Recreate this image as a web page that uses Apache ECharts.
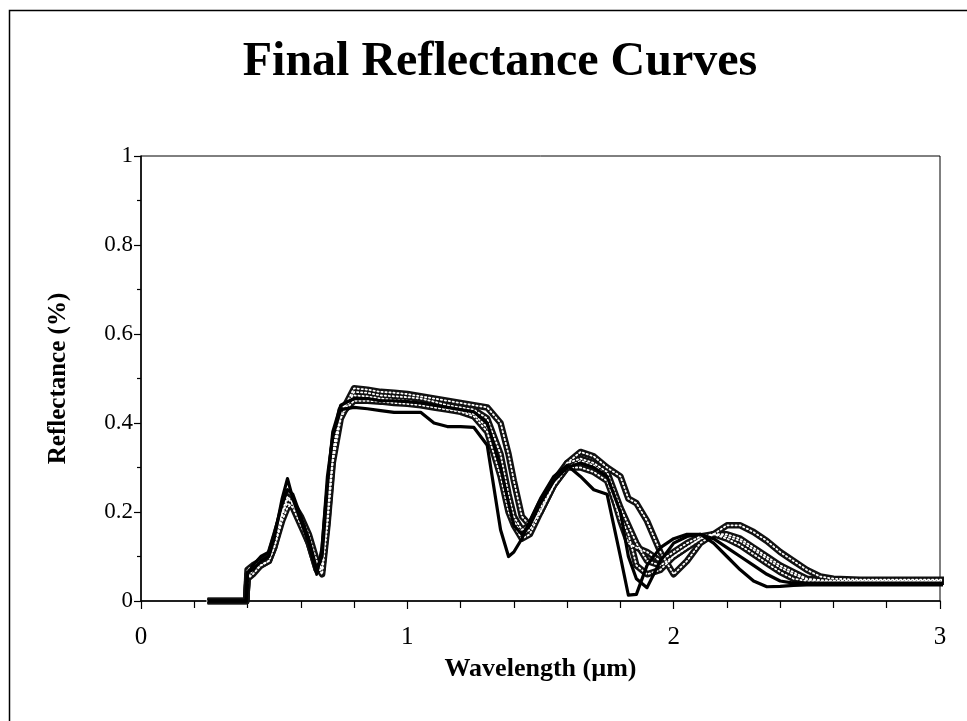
<!DOCTYPE html>
<html>
<head>
<meta charset="utf-8">
<script src="https://cdn.jsdelivr.net/npm/echarts@6/dist/echarts.min.js"></script>
<style>html,body{margin:0;padding:0;background:#fff;}#c{width:967px;height:721px;}</style>
</head>
<body>
<div id="c"></div>
<script>
// Wavelength grid (µm)
var wavelength = [0.25,0.30,0.35,0.395,0.40,0.42,0.45,0.48,0.50,0.53,0.55,0.57,0.60,0.63,0.66,0.68,0.70,0.72,0.75,0.80,
  0.85,0.90,0.95,1.00,1.05,1.10,1.15,1.20,1.25,1.30,1.35,1.38,1.40,1.43,1.46,1.50,1.55,1.60,1.65,1.70,
  1.75,1.80,1.83,1.86,1.90,1.95,2.00,2.05,2.10,2.15,2.20,2.25,2.30,2.35,2.40,2.45,2.50,2.55,2.60,2.70,
  2.80,2.90,3.00,3.05];

// Solid black curves
var black1 = [0,0,0,0,0.065,0.07,0.09,0.10,0.14,0.23,0.275,0.23,0.18,0.13,0.06,0.12,0.28,0.37,0.43,0.435,
  0.432,0.428,0.424,0.424,0.424,0.40,0.392,0.392,0.39,0.35,0.16,0.10,0.11,0.14,0.18,0.23,0.28,0.305,0.28,0.25,
  0.24,0.10,0.013,0.015,0.08,0.12,0.14,0.15,0.15,0.13,0.10,0.07,0.045,0.032,0.033,0.035,0.036,0.036,0.036,0.036,
  0.036,0.036,0.036,0.036];
var black2 = [0,0,0,0,0.06,0.08,0.10,0.11,0.15,0.22,0.25,0.24,0.19,0.14,0.07,0.10,0.26,0.38,0.44,0.455,
  0.455,0.45,0.45,0.448,0.445,0.44,0.435,0.43,0.425,0.40,0.30,0.22,0.17,0.15,0.17,0.22,0.27,0.30,0.31,0.30,
  0.28,0.20,0.10,0.05,0.03,0.09,0.13,0.145,0.15,0.14,0.12,0.10,0.08,0.06,0.045,0.04,0.04,0.04,0.04,0.04,
  0.04,0.04,0.04,0.04];

// Patterned (grey) curves
var grey1 = [0,0,0,0,0.05,0.07,0.08,0.09,0.12,0.18,0.21,0.22,0.19,0.15,0.09,0.07,0.18,0.32,0.42,0.478,
  0.475,0.47,0.468,0.465,0.46,0.455,0.45,0.445,0.44,0.435,0.40,0.33,0.27,0.19,0.17,0.20,0.26,0.31,0.335,0.325,
  0.30,0.28,0.23,0.22,0.18,0.11,0.06,0.09,0.13,0.15,0.17,0.17,0.155,0.135,0.11,0.09,0.07,0.055,0.05,0.048,
  0.048,0.048,0.048,0.048];
var grey2 = [0,0,0,0,0.05,0.06,0.08,0.09,0.12,0.19,0.23,0.22,0.18,0.14,0.08,0.06,0.17,0.31,0.41,0.47,
  0.468,0.462,0.46,0.458,0.455,0.448,0.44,0.435,0.43,0.41,0.33,0.24,0.19,0.16,0.17,0.22,0.27,0.31,0.32,0.31,
  0.29,0.21,0.17,0.13,0.09,0.08,0.10,0.12,0.14,0.15,0.15,0.14,0.12,0.10,0.08,0.065,0.05,0.047,0.046,0.046,
  0.046,0.046,0.046,0.046];
var grey3 = [0,0,0,0,0.06,0.07,0.09,0.10,0.13,0.20,0.22,0.21,0.17,0.13,0.07,0.08,0.22,0.34,0.43,0.462,
  0.46,0.455,0.452,0.45,0.445,0.44,0.432,0.428,0.42,0.39,0.30,0.22,0.18,0.15,0.16,0.21,0.26,0.30,0.315,0.305,
  0.28,0.18,0.13,0.12,0.11,0.09,0.11,0.13,0.145,0.15,0.145,0.135,0.115,0.095,0.075,0.06,0.048,0.045,0.045,0.045,
  0.045,0.045,0.045,0.045];
var grey4 = [0,0,0,0,0.07,0.08,0.09,0.10,0.14,0.20,0.235,0.22,0.18,0.13,0.07,0.07,0.20,0.33,0.42,0.45,
  0.45,0.448,0.445,0.443,0.44,0.435,0.43,0.425,0.415,0.38,0.28,0.20,0.17,0.14,0.15,0.20,0.26,0.30,0.30,0.29,
  0.27,0.19,0.15,0.08,0.06,0.07,0.10,0.12,0.14,0.15,0.14,0.125,0.105,0.085,0.065,0.05,0.045,0.043,0.043,0.043,
  0.043,0.043,0.043,0.043];

var xTicks = [0, 1, 2, 3];
var yTicks = [0, 0.2, 0.4, 0.6, 0.8, 1];

function pairs(ys) { return wavelength.map(function (x, i) { return [x, ys[i]]; }); }

var FONT = "'Liberation Serif', 'Times New Roman', serif";
var series = [];
[grey1, grey2, grey3, grey4].forEach(function (g, k) {
  series.push({ type: 'line', name: 'grey' + (k + 1), data: pairs(g), symbol: 'none', clip: false,
    lineStyle: { color: '#111', width: 6.5, join: 'round' }, z: 2 });
  series.push({ type: 'line', name: 'grey' + (k + 1) + 'dots', data: pairs(g), symbol: 'none', clip: false,
    lineStyle: { color: '#fff', width: 1.8, type: [1.3, 2.7], cap: 'round', join: 'round' }, z: 3 });
});
[black1, black2].forEach(function (b, k) {
  series.push({ type: 'line', name: 'black' + (k + 1), data: pairs(b), symbol: 'none', clip: false,
    lineStyle: { color: '#000', width: 3.2, join: 'round' }, z: 4 });
});

var chart = echarts.init(document.getElementById('c'), null, { renderer: 'canvas' });
chart.setOption({
  backgroundColor: '#fff',
  animation: false,
  title: {
    text: 'Final Reflectance Curves', left: 495, top: 34, textAlign: 'center',
    textStyle: { fontFamily: FONT, fontWeight: 'bold', fontSize: 48, color: '#000' }
  },
  graphic: [{
    type: 'rect', shape: { x: 9.5, y: 10.5, width: 980, height: 800 },
    style: { fill: 'none', stroke: '#000', lineWidth: 1.5 }, silent: true
  }],
  grid: { left: 141, right: 27, top: 156, bottom: 120, show: true, borderColor: '#000', borderWidth: 1, backgroundColor: 'transparent' },
  xAxis: {
    type: 'value', min: xTicks[0], max: xTicks[xTicks.length - 1], interval: 1,
    name: 'Wavelength (µm)', nameLocation: 'middle', nameGap: 55,
    nameTextStyle: { fontFamily: FONT, fontWeight: 'bold', fontSize: 26, color: '#000' },
    axisLine: { show: true, onZero: false, lineStyle: { color: '#000', width: 1.5 } },
    axisTick: { show: true, inside: false, length: 8, lineStyle: { color: '#000', width: 1.2 } },
    minorTick: { show: true, splitNumber: 5, length: 7, lineStyle: { color: '#000', width: 1.2 } },
    splitLine: { show: false }, minorSplitLine: { show: false },
    axisLabel: { fontFamily: FONT, fontSize: 25, color: '#000', margin: 24 }
  },
  yAxis: {
    type: 'value', min: yTicks[0], max: yTicks[yTicks.length - 1], interval: 0.2,
    name: 'Reflectance (%)', nameLocation: 'middle', nameGap: 70, nameRotate: 90,
    nameTextStyle: { fontFamily: FONT, fontWeight: 'bold', fontSize: 25, color: '#000' },
    axisLine: { show: true, lineStyle: { color: '#000', width: 1.5 } },
    axisTick: { show: true, inside: false, length: 7, lineStyle: { color: '#000', width: 1.2 } },
    minorTick: { show: true, splitNumber: 2, length: 4, lineStyle: { color: '#000', width: 1.2 } },
    splitLine: { show: false }, minorSplitLine: { show: false },
    axisLabel: { fontFamily: FONT, fontSize: 23, color: '#000', margin: 8 }
  },
  series: series
});
</script>
</body>
</html>
